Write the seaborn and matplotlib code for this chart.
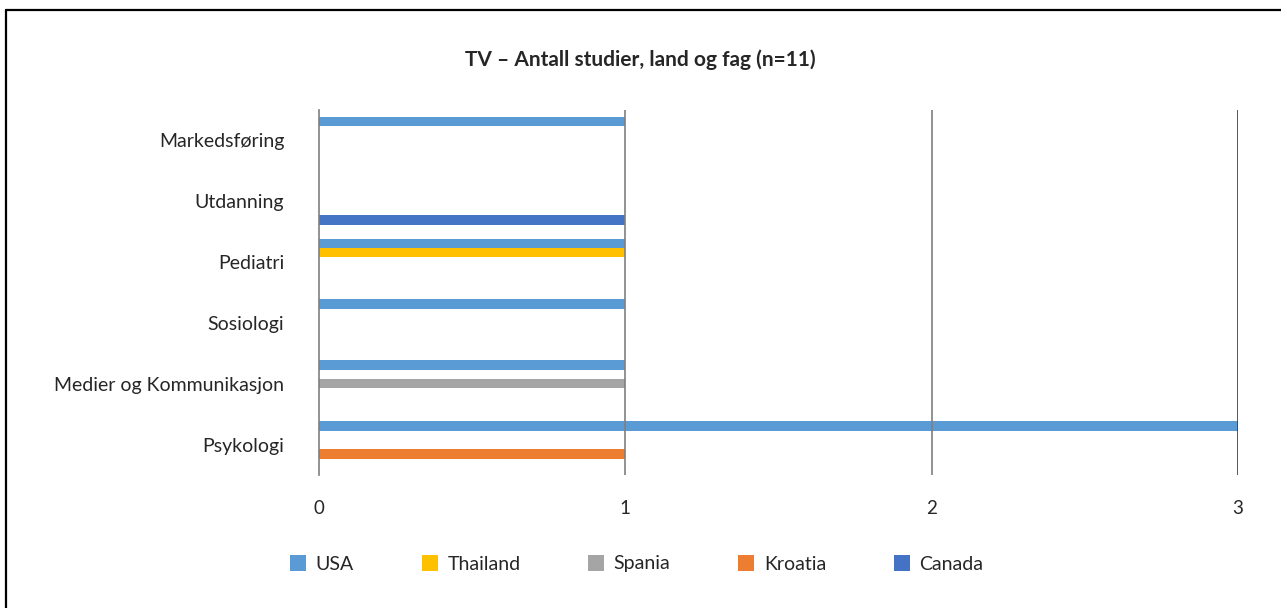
import matplotlib
matplotlib.use("Agg")
import matplotlib.pyplot as plt
import seaborn as sns
import pandas as pd
from matplotlib.lines import Line2D

categories = ["Markedsføring", "Utdanning", "Pediatri", "Sosiologi",
              "Medier og Kommunikasjon", "Psykologi"]
countries = ["USA", "Thailand", "Spania", "Kroatia", "Canada"]
colors = ["#5B9BD5", "#FFC000", "#A5A5A5", "#ED7D31", "#4472C4"]

usa = [1, 0, 1, 1, 1, 3]
thailand = [0, 0, 1, 0, 0, 0]
spania = [0, 0, 0, 0, 1, 0]
kroatia = [0, 0, 0, 0, 0, 1]
canada = [0, 1, 0, 0, 0, 0]
xticks = [0, 1, 2, 3]
title = "TV – Antall studier, land og fag (n=11)"

series = {"USA": usa, "Thailand": thailand, "Spania": spania,
          "Kroatia": kroatia, "Canada": canada}
rows = []
for c in countries:
    for cat, v in zip(categories, series[c]):
        rows.append({"fag": cat, "land": c, "antall": v})
df = pd.DataFrame(rows)

sns.set_theme(style="white")
plt.rcParams["font.family"] = ["Lato", "DejaVu Sans"]

W, H = 1281, 608
fig = plt.figure(figsize=(W / 100, H / 100), dpi=100)
ax = fig.add_axes([319 / W, 1 - 475 / H, (1238 - 319) / W, (475 - 110) / H])

sns.barplot(data=df, y="fag", x="antall", hue="land", order=categories,
            hue_order=countries, palette=colors, orient="h", width=0.77,
            gap=0, errorbar=None, ax=ax, legend=False, linewidth=0,
            saturation=1)

ax.set_xlim(0, 3)
ax.set_xticks(xticks)
ax.set_xticklabels([str(t) for t in xticks], fontsize=13.5, color="#262626")
ax.tick_params(axis="x", length=0, pad=18)
ax.tick_params(axis="y", length=0, pad=25, labelsize=14, labelcolor="#262626")
ax.set_xlabel("")
ax.set_ylabel("")
for s in ["top", "right", "bottom"]:
    ax.spines[s].set_visible(False)
ax.spines["left"].set_color("#7f7f7f")
ax.spines["left"].set_linewidth(1.2)
for t in xticks[1:]:
    ax.axvline(t, color="#3a3a3a" if t == 3 else "#7f7f7f", lw=1.2, zorder=5)

fig.text(0.5, 1 - 60 / H, title, ha="center", va="center",
         fontsize=15, fontweight="bold", color="#262626")

handles = [Line2D([], [], linestyle="none", marker="s", markersize=11,
                  markerfacecolor=col, markeredgewidth=0, label=c)
           for c, col in zip(countries, colors)]
fig.legend(handles=handles, loc="center", bbox_to_anchor=(637 / W, 1 - 564 / H),
           ncol=5, frameon=False, fontsize=14, handlelength=0.8,
           handletextpad=0.5, columnspacing=3.5, labelcolor="#262626")

# figure border (top and left visible)
fig.add_artist(Line2D([6 / W, 6 / W], [0, 1 - 10 / H], transform=fig.transFigure,
                      color="black", lw=1.6))
fig.add_artist(Line2D([6 / W, 1], [1 - 10 / H, 1 - 10 / H], transform=fig.transFigure,
                      color="black", lw=1.6))

fig.savefig("out.png", dpi=100)
